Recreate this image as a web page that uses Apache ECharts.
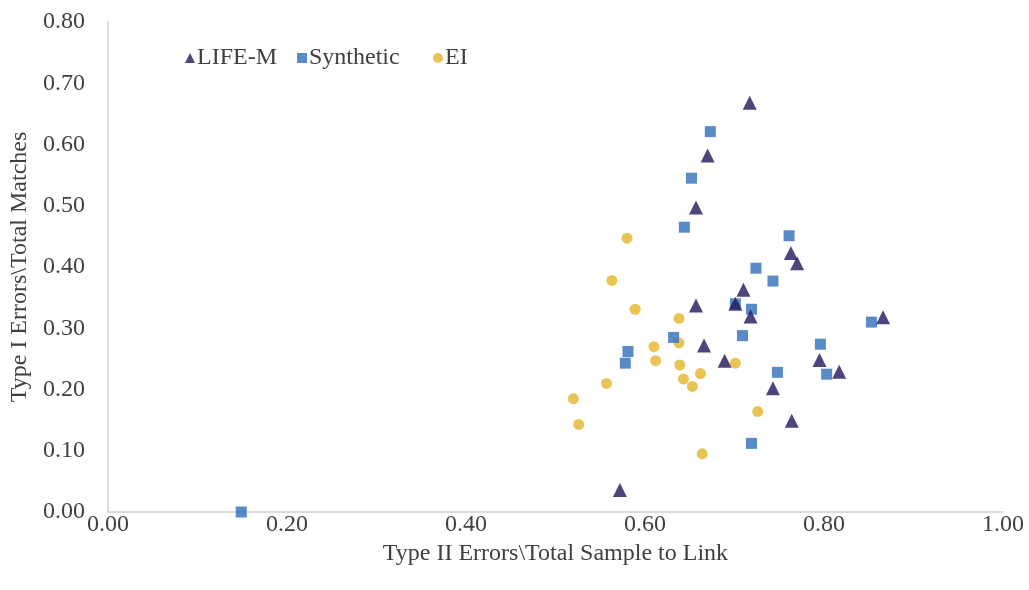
<!DOCTYPE html>
<html>
<head>
<meta charset="utf-8">
<script src="https://cdn.jsdelivr.net/npm/echarts@6/dist/echarts.min.js"></script>
<style>
html,body{margin:0;padding:0;background:#fff;}
#chart{width:1029px;height:590px;}
</style>
</head>
<body>
<div id="chart"></div>
<script>
// LIFE-M: [Type II error rate, Type I error rate]
const lifeM = [
  [0.717,0.668],[0.670,0.582],[0.657,0.497],[0.657,0.337],[0.710,0.363],
  [0.701,0.340],[0.718,0.319],[0.666,0.272],[0.689,0.247],[0.763,0.423],
  [0.770,0.406],[0.866,0.318],[0.795,0.248],[0.817,0.229],[0.743,0.202],
  [0.764,0.149],[0.572,0.036]
];
const synthetic = [
  [0.673,0.621],[0.652,0.545],[0.644,0.465],[0.761,0.451],[0.724,0.398],
  [0.743,0.377],[0.701,0.340],[0.719,0.331],[0.709,0.288],[0.632,0.285],
  [0.581,0.262],[0.578,0.243],[0.853,0.310],[0.796,0.274],[0.748,0.228],
  [0.803,0.225],[0.719,0.112],[0.149,0.000]
];
const ei = [
  [0.580,0.447],[0.563,0.378],[0.589,0.331],[0.638,0.316],[0.638,0.276],
  [0.610,0.270],[0.612,0.247],[0.639,0.240],[0.662,0.226],[0.643,0.217],
  [0.653,0.205],[0.557,0.210],[0.520,0.185],[0.526,0.143],[0.701,0.243],
  [0.726,0.164],[0.664,0.095]
];
const seriesNames = ['LIFE-M','Synthetic','EI'];
const xTitle = 'Type II Errors\\Total Sample to Link';
const yTitle = 'Type I Errors\\Total Matches';

const font = '"Liberation Serif", "Times New Roman", serif';
const legendText = {fontFamily:font,fontSize:24,color:'#404040',padding:[0,0,0,-3]};
const chart = echarts.init(document.getElementById('chart'), null, {renderer:'canvas'});
chart.setOption({
  backgroundColor:'#ffffff',
  animation:false,
  textStyle:{fontFamily:font},
  grid:{left:104,right:26,top:22,bottom:78,containLabel:false},
  legend:[{
    left:180, top:41, itemGap:20, itemWidth:10, itemHeight:10,
    textStyle:legendText,
    data:[
      {name:seriesNames[0],icon:'triangle'},
      {name:seriesNames[1],icon:'rect'}
    ]
  },{
    left:428, top:41, itemWidth:10, itemHeight:10,
    textStyle:legendText,
    data:[{name:seriesNames[2],icon:'circle'}]
  }],
  xAxis:{
    type:'value',min:0,max:1,interval:0.2,
    name:xTitle,nameLocation:'middle',nameGap:25,
    nameTextStyle:{fontFamily:font,fontSize:24,color:'#404040',verticalAlign:'top'},
    axisLine:{show:true,lineStyle:{color:'#d0d0d0',width:1.5}},
    axisTick:{show:false},
    splitLine:{show:false},
    axisLabel:{fontFamily:font,fontSize:24,color:'#404040',margin:1,
      formatter:v=>v.toFixed(2)}
  },
  yAxis:{
    type:'value',min:0,max:0.8,interval:0.1,
    name:yTitle,nameLocation:'middle',nameGap:80,nameRotate:90,
    nameTextStyle:{fontFamily:font,fontSize:24,color:'#404040',verticalAlign:'middle'},
    axisLine:{show:true,lineStyle:{color:'#d0d0d0',width:1.5}},
    axisTick:{show:false},
    splitLine:{show:false},
    axisLabel:{fontFamily:font,fontSize:24,color:'#404040',margin:23,
      formatter:v=>v.toFixed(2)}
  },
  series:[
    {name:seriesNames[0],type:'scatter',symbol:'triangle',symbolSize:14,
     itemStyle:{color:'#22165c'},data:lifeM,z:3},
    {name:seriesNames[1],type:'scatter',symbol:'rect',symbolSize:11,
     itemStyle:{color:'#306eb8'},data:synthetic,z:2},
    {name:seriesNames[2],type:'scatter',symbol:'circle',symbolSize:11,
     itemStyle:{color:'#e3b52b'},data:ei,z:1}
  ]
});
</script>
</body>
</html>
